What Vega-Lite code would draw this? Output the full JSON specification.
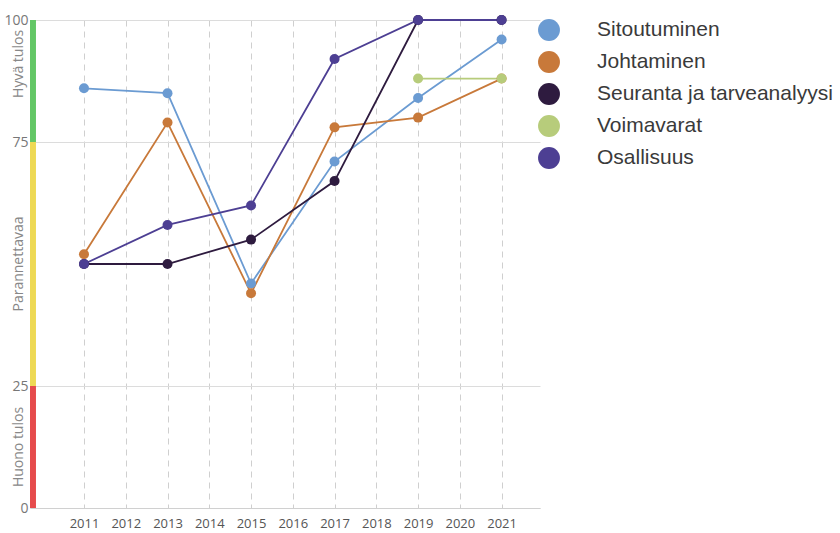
{
  "$schema": "https://vega.github.io/schema/vega-lite/v6.json",
  "autosize": {"type": "none"},
  "padding": {"left": 30, "top": 20, "right": 300, "bottom": 25},
  "width": 510,
  "height": 488,
  "background": "white",
  "config": {"view": {"stroke": null}},
  "resolve": {"legend": {"color": "independent"}},
  "datasets": {
    "series": [
      {"series": "Sitoutuminen", "year": 2011, "value": 86},
      {"series": "Sitoutuminen", "year": 2013, "value": 85},
      {"series": "Sitoutuminen", "year": 2015, "value": 46},
      {"series": "Sitoutuminen", "year": 2017, "value": 71},
      {"series": "Sitoutuminen", "year": 2019, "value": 84},
      {"series": "Sitoutuminen", "year": 2021, "value": 96},
      {"series": "Johtaminen", "year": 2011, "value": 52},
      {"series": "Johtaminen", "year": 2013, "value": 79},
      {"series": "Johtaminen", "year": 2015, "value": 44},
      {"series": "Johtaminen", "year": 2017, "value": 78},
      {"series": "Johtaminen", "year": 2019, "value": 80},
      {"series": "Johtaminen", "year": 2021, "value": 88},
      {"series": "Seuranta ja tarveanalyysi", "year": 2011, "value": 50},
      {"series": "Seuranta ja tarveanalyysi", "year": 2013, "value": 50},
      {"series": "Seuranta ja tarveanalyysi", "year": 2015, "value": 55},
      {"series": "Seuranta ja tarveanalyysi", "year": 2017, "value": 67},
      {"series": "Seuranta ja tarveanalyysi", "year": 2019, "value": 100},
      {"series": "Seuranta ja tarveanalyysi", "year": 2021, "value": 100},
      {"series": "Voimavarat", "year": 2019, "value": 88},
      {"series": "Voimavarat", "year": 2021, "value": 88},
      {"series": "Osallisuus", "year": 2011, "value": 50},
      {"series": "Osallisuus", "year": 2013, "value": 58},
      {"series": "Osallisuus", "year": 2015, "value": 62},
      {"series": "Osallisuus", "year": 2017, "value": 92},
      {"series": "Osallisuus", "year": 2019, "value": 100},
      {"series": "Osallisuus", "year": 2021, "value": 100}
    ],
    "zones": [
      {"zone": "Hyvä tulos", "lo": 75, "hi": 100, "mid": 91},
      {"zone": "Parannettavaa", "lo": 25, "hi": 75, "mid": 50},
      {"zone": "Huono tulos", "lo": 0, "hi": 25, "mid": 12.5}
    ]
  },
  "layer": [
    {
      "data": {"name": "series"},
      "mark": {"type": "line", "strokeWidth": 1.8},
      "encoding": {
        "x": {
          "field": "year", "type": "quantitative",
          "scale": {"domain": [2009.707, 2021.92], "nice": false, "zero": false},
          "axis": {
            "title": null, "values": [2011, 2012, 2013, 2014, 2015, 2016, 2017, 2018, 2019, 2020, 2021],
            "format": "d", "grid": true, "gridDash": [6, 5], "gridColor": "#cfcfcf",
            "domainColor": "#d0d0d0", "ticks": false, "labelPadding": 9,
            "labelFont": "Open Sans", "labelFontSize": 13, "labelColor": "#555", "labelFlush": false
          }
        },
        "y": {
          "field": "value", "type": "quantitative",
          "scale": {"domain": [0, 100], "nice": false},
          "axis": {
            "title": null, "values": [0, 25, 75, 100], "grid": true, "gridColor": "#dcdcdc",
            "domain": false, "ticks": false, "tickSize": 0, "labelPadding": 2,
            "labelFont": "Open Sans", "labelFontSize": 14, "labelColor": "#777"
          }
        },
        "color": {
          "field": "series", "type": "nominal", "legend": null,
          "scale": {
            "domain": ["Sitoutuminen", "Johtaminen", "Seuranta ja tarveanalyysi", "Voimavarat", "Osallisuus"],
            "range": ["#6b9bd2", "#c8793a", "#2e1b3f", "#b7cc7b", "#4d3f93"]
          }
        }
      }
    },
    {
      "data": {"name": "series"},
      "mark": {"type": "point", "filled": true, "size": 100, "opacity": 1},
      "encoding": {
        "x": {"field": "year", "type": "quantitative"},
        "y": {"field": "value", "type": "quantitative"},
        "color": {
          "field": "series", "type": "nominal",
          "legend": {
            "title": null, "orient": "none", "legendX": 508, "legendY": -1,
            "symbolType": "circle", "symbolSize": 480, "symbolStrokeWidth": 0, "symbolOpacity": 1,
            "labelFont": "Liberation Sans", "labelFontSize": 21, "labelColor": "#3a3a3a",
            "labelOffset": 37, "rowPadding": 10, "padding": 0, "labelLimit": 400
          }
        }
      }
    },
    {
      "data": {"name": "zones"},
      "mark": {"type": "rect"},
      "encoding": {
        "x": {"datum": 2009.707, "type": "quantitative"},
        "x2": {"datum": 2009.85},
        "y": {"field": "lo", "type": "quantitative"},
        "y2": {"field": "hi"},
        "fill": {
          "field": "zone", "type": "nominal", "legend": null,
          "scale": {"domain": ["Hyvä tulos", "Parannettavaa", "Huono tulos"], "range": ["#63c766", "#eed955", "#e64b4c"]}
        }
      }
    },
    {
      "data": {"name": "zones"},
      "mark": {"type": "text", "angle": 270, "align": "center", "baseline": "middle", "font": "Open Sans", "fontSize": 14, "color": "#888"},
      "encoding": {
        "x": {"datum": 2009.44, "type": "quantitative"},
        "y": {"field": "mid", "type": "quantitative"},
        "text": {"field": "zone"}
      }
    }
  ]
}
